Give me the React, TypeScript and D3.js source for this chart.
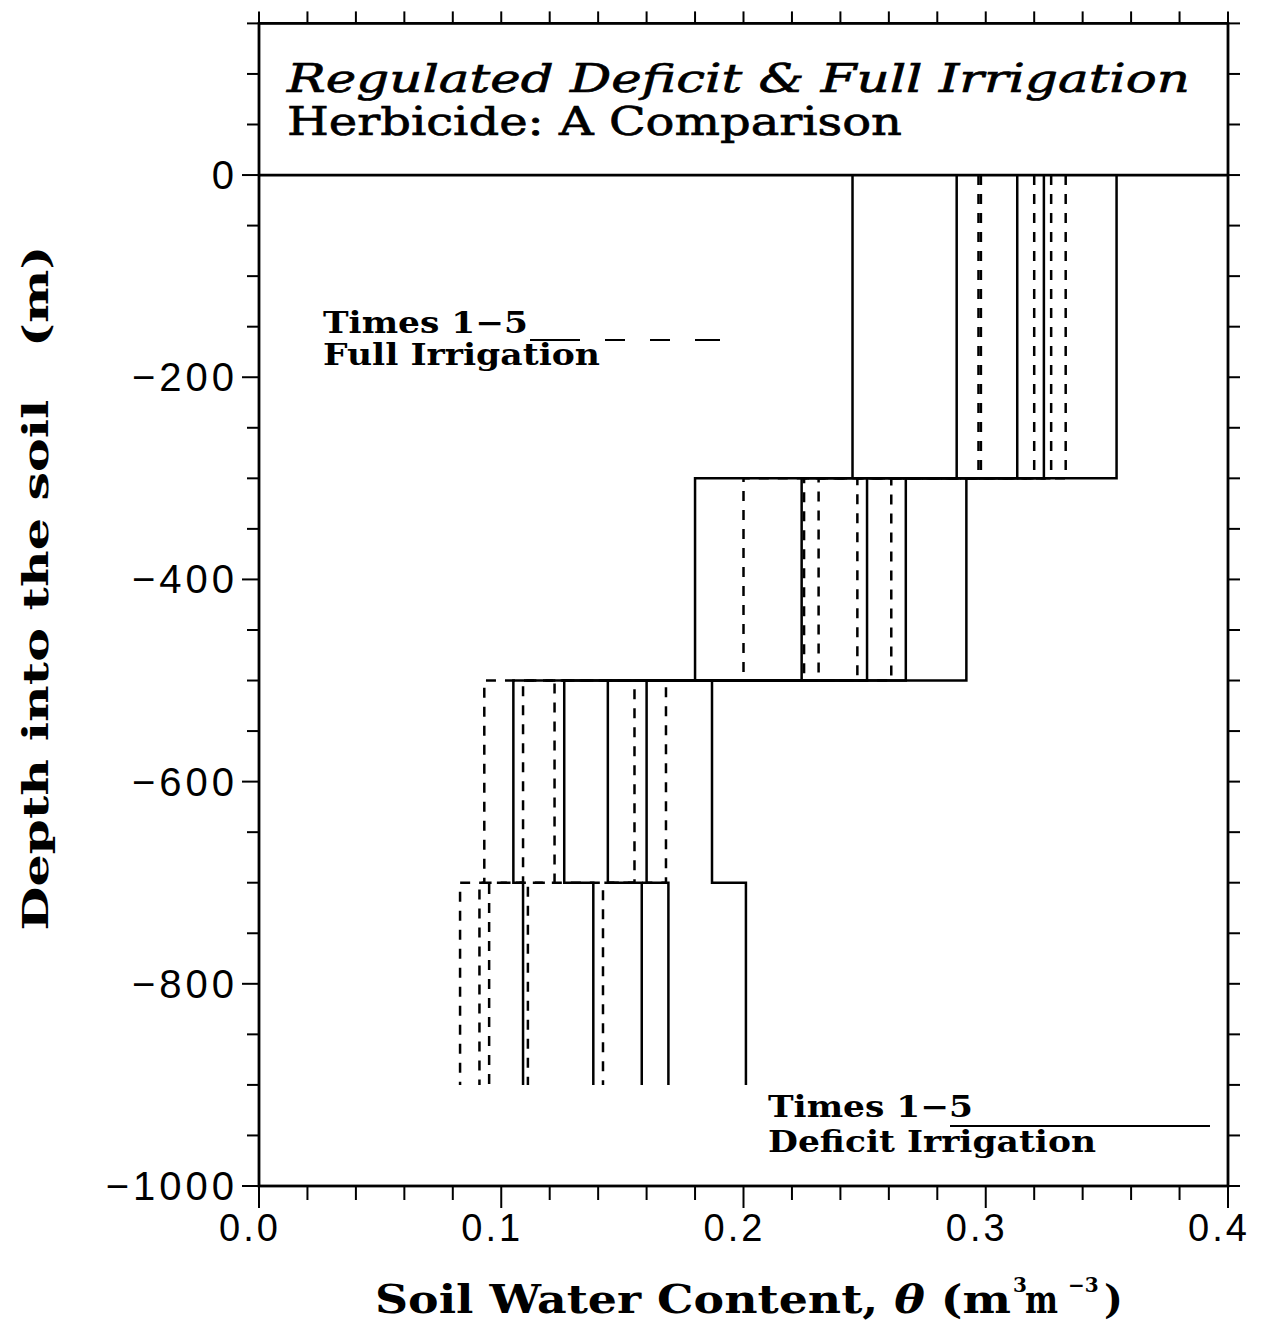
import React from "react";
import * as d3 from "d3";

// Layer boundaries (depth, m as labelled)
const layerBounds = [0, -300, -500, -700, -900];

// Deficit irrigation (solid), soil water content per layer, times 1-5
const deficitT1 = [0.245, 0.180, 0.105, 0.109];
const deficitT2 = [0.288, 0.224, 0.126, 0.138];
const deficitT3 = [0.313, 0.251, 0.144, 0.158];
const deficitT4 = [0.324, 0.267, 0.160, 0.169];
const deficitT5 = [0.354, 0.292, 0.187, 0.201];

// Full irrigation (dashed), times 1-5
const fullT1 = [0.297, 0.200, 0.093, 0.083];
const fullT2 = [0.298, 0.225, 0.109, 0.091];
const fullT3 = [0.320, 0.231, 0.122, 0.095];
const fullT4 = [0.327, 0.247, 0.155, 0.111];
const fullT5 = [0.333, 0.261, 0.168, 0.142];

const xTickLabels = ["0.0", "0.1", "0.2", "0.3", "0.4"];
const xTickValues = [0, 0.1, 0.2, 0.3, 0.4];
const yTickValues = [0, -200, -400, -600, -800, -1000];

const W = 1262;
const H = 1325;

export default function App() {
  const x = d3.scaleLinear().domain([0, 0.4]).range([259, 1228]);
  const y = d3.scaleLinear().domain([-1000, 150]).range([1186, 23.4]);

  const stepPoints = (vals: number[]) => {
    const pts: [number, number][] = [];
    vals.forEach((v, i) => {
      pts.push([v, layerBounds[i]]);
      pts.push([v, layerBounds[i + 1]]);
    });
    return pts;
  };
  const line = d3
    .line<[number, number]>()
    .x((d) => x(d[0]))
    .y((d) => y(d[1]));

  const deficit = [deficitT1, deficitT2, deficitT3, deficitT4, deficitT5];
  const full = [fullT1, fullT2, fullT3, fullT4, fullT5];

  const minorX = d3.range(0, 0.4001, 0.02);
  const minorY = d3.range(-1000, 150.1, 50);

  const x0 = x(0), x1 = x(0.4), yTop = y(150), yBot = y(-1000);

  const sans = "'Liberation Sans', Arial, sans-serif";
  const serif = "'DejaVu Serif', serif";

  return (
    <svg
      width={W}
      height={H}
      style={{ position: "absolute", left: 0, top: 0, background: "#fff" }}
    >
      <rect x={0} y={0} width={W} height={H} fill="#fff" />
      {/* data */}
      {deficit.map((vals, i) => (
        <path key={"d" + i} d={line(stepPoints(vals)) || ""} fill="none" stroke="#000" strokeWidth={2.5} />
      ))}
      {full.map((vals, i) => (
        <path key={"f" + i} d={line(stepPoints(vals)) || ""} fill="none" stroke="#000" strokeWidth={2.5} strokeDasharray="10,9" />
      ))}

      {/* frame */}
      <rect x={x0} y={yTop} width={x1 - x0} height={yBot - yTop} fill="none" stroke="#000" strokeWidth={2.8} />
      <line x1={x0} x2={x1} y1={y(0)} y2={y(0)} stroke="#000" strokeWidth={2.8} />

      {/* top & bottom ticks */}
      {minorX.map((v, i) => {
        const major = Math.abs(v * 10 - Math.round(v * 10)) < 1e-6;
        return (
          <g key={"xt" + i}>
            <line x1={x(v)} x2={x(v)} y1={yTop} y2={yTop - 12} stroke="#000" strokeWidth={2} />
            <line x1={x(v)} x2={x(v)} y1={yBot} y2={yBot + (major ? 22 : 14)} stroke="#000" strokeWidth={2} />
          </g>
        );
      })}
      {/* left & right ticks */}
      {minorY.map((v, i) => {
        const major = Math.abs(v % 200) < 1e-6 && v <= 0;
        return (
          <g key={"yt" + i}>
            <line x1={x0} x2={x0 - (major ? 17 : 12)} y1={y(v)} y2={y(v)} stroke="#000" strokeWidth={2} />
            <line x1={x1} x2={x1 + 12} y1={y(v)} y2={y(v)} stroke="#000" strokeWidth={2} />
          </g>
        );
      })}

      {/* tick labels */}
      {xTickValues.map((v, i) => (
        <text key={"xl" + i} x={x(v) - 9} y={1241} textAnchor="middle" fontFamily={sans} fontSize={38} letterSpacing={3}>
          {xTickLabels[i]}
        </text>
      ))}
      {yTickValues.map((v) => (
        <text key={"yl" + v} x={238} y={y(v) + 14} textAnchor="end" fontFamily={sans} fontSize={40} letterSpacing={4}>
          {v === 0 ? "0" : "\u2212" + Math.abs(v)}
        </text>
      ))}

      {/* title box */}
      <text x={287} y={92} fontFamily={serif} fontStyle="italic" fontSize={40} textLength={903} lengthAdjust="spacingAndGlyphs" stroke="#000" strokeWidth={0.7}>
        Regulated Deficit &amp; Full Irrigation
      </text>
      <text x={287} y={135} fontFamily={serif} fontSize={40} textLength={615} lengthAdjust="spacingAndGlyphs" stroke="#000" strokeWidth={0.7}>
        Herbicide: A Comparison
      </text>

      {/* legend: full */}
      <text x={323} y={333} fontFamily={serif} fontWeight="bold" fontSize={29} textLength={205} lengthAdjust="spacingAndGlyphs">
        Times 1{"\u2212"}5
      </text>
      <text x={323} y={365} fontFamily={serif} fontWeight="bold" fontSize={29} textLength={277} lengthAdjust="spacingAndGlyphs">
        Full Irrigation
      </text>
      <line x1={530} x2={730} y1={340} y2={340} stroke="#000" strokeWidth={2} strokeDasharray="50,25,20,25,20,25,25" />

      {/* legend: deficit */}
      <text x={768} y={1117} fontFamily={serif} fontWeight="bold" fontSize={29} textLength={205} lengthAdjust="spacingAndGlyphs">
        Times 1{"\u2212"}5
      </text>
      <text x={768} y={1152} fontFamily={serif} fontWeight="bold" fontSize={29} textLength={328} lengthAdjust="spacingAndGlyphs">
        Deficit Irrigation
      </text>
      <line x1={950} x2={1210} y1={1126} y2={1126} stroke="#000" strokeWidth={2} />

      {/* axis titles */}
      <text
        transform={`translate(48, 588) rotate(-90)`}
        textAnchor="middle"
        fontFamily={serif}
        fontWeight="bold"
        fontSize={36}
        textLength={685}
        lengthAdjust="spacingAndGlyphs"
      >
        Depth into the soil{"\u00a0\u00a0\u00a0"}(m)
      </text>
      <text x={375} y={1313} fontFamily={serif} fontWeight="bold" fontSize={40} textLength={636} lengthAdjust="spacingAndGlyphs">
        Soil Water Content, <tspan fontStyle="italic">{"\u03b8"}</tspan> (m
      </text>
      <text x={1013} y={1292} fontFamily={serif} fontWeight="bold" fontSize={20}>3</text>
      <text x={1025} y={1313} fontFamily={serif} fontWeight="bold" fontSize={40} textLength={33} lengthAdjust="spacingAndGlyphs">m</text>
      <text x={1068} y={1292} fontFamily={serif} fontWeight="bold" fontSize={20}>{"\u22123"}</text>
      <text x={1104} y={1313} fontFamily={serif} fontWeight="bold" fontSize={40}>)</text>
    </svg>
  );
}
